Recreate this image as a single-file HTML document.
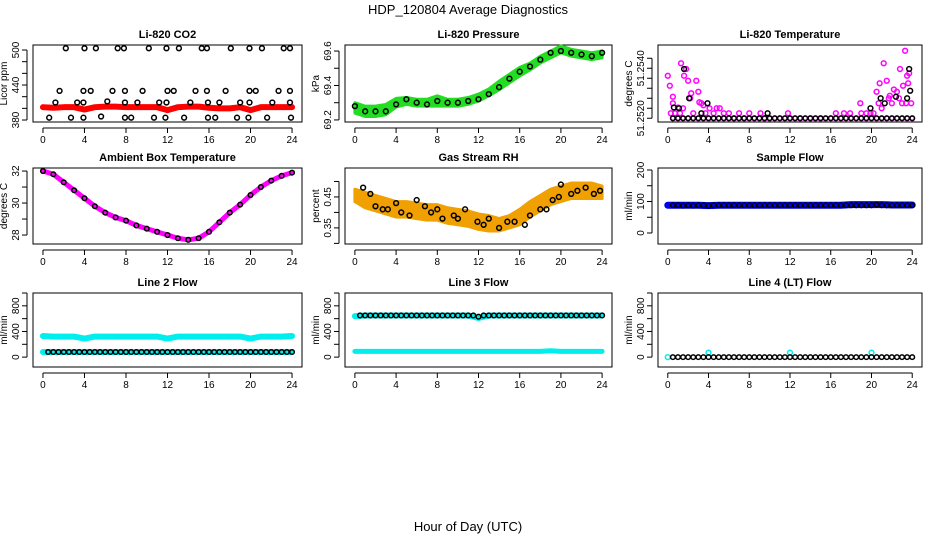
<!DOCTYPE html>
<html><head><meta charset="utf-8"><style>
body{margin:0;background:#fff}
svg{display:block;font-family:"Liberation Sans",sans-serif}
</style></head><body>
<svg id="c" width="936" height="540" xmlns="http://www.w3.org/2000/svg">
<text x="468" y="14" text-anchor="middle" font-size="13">HDP_120804  Average Diagnostics</text>
<text x="468" y="531" text-anchor="middle" font-size="13">Hour of Day (UTC)</text>
</svg>
<script>
const hrs=[0,1,2,3,4,5,6,7,8,9,10,11,12,13,14,15,16,17,18,19,20,21,22,23,24];
const halfHrs=[0.5,1,1.5,2,2.5,3,3.5,4,4.5,5,5.5,6,6.5,7,7.5,8,8.5,9,9.5,10,10.5,11,11.5,12,12.5,13,13.5,14,14.5,15,15.5,16,16.5,17,17.5,18,18.5,19,19.5,20,20.5,21,21.5,22,22.5,23,23.5,24];
const xTicks=[0,4,8,12,16,20,24];
// CO2
const co2Red=[402,401,402,402,398,402,403,403,402,402,402,402,397,402,403,403,401,400,400,402,397,402,402,402,402];
const co2BlackH=[2.2,4.0,5.1,7.2,7.8,10.2,11.9,13.1,15.3,15.8,18.1,19.9,21.1,23.2,23.8,1.6,3.9,4.6,6.7,7.9,9.6,12.0,12.6,14.7,15.8,17.6,19.9,20.5,22.7,23.8,1.2,3.9,3.3,6.2,7.9,9.1,11.2,11.9,14.2,15.9,17.0,19.0,19.9,22.1,23.8,0.6,2.7,3.9,5.6,7.9,8.5,10.7,11.8,13.6,15.9,16.6,18.7,19.8,21.6,23.9];
const co2BlackV=[503,503,503,503,503,503,503,503,503,503,503,503,503,503,503,430,430,430,430,430,430,430,430,430,430,430,430,430,430,430,410,410,410,412,410,410,410,410,410,410,410,410,410,410,410,384,384,384,386,384,384,384,384,384,384,384,384,384,384,384];
// Pressure
const presMean=[69.27,69.25,69.25,69.26,69.30,69.31,69.30,69.30,69.31,69.30,69.30,69.31,69.33,69.36,69.40,69.44,69.48,69.51,69.55,69.58,69.61,69.59,69.58,69.57,69.58];
const presSpread=[0.03,0.03,0.03,0.03,0.025,0.02,0.02,0.02,0.03,0.02,0.02,0.02,0.02,0.02,0.025,0.025,0.025,0.02,0.02,0.02,0.02,0.02,0.02,0.02,0.02];
const presBlack=[69.28,69.25,69.25,69.25,69.29,69.32,69.30,69.29,69.31,69.30,69.30,69.31,69.32,69.35,69.39,69.44,69.48,69.51,69.55,69.59,69.60,69.59,69.58,69.57,69.59];
// Li-820 temperature (offset above 51.2520, units 1e-4)
const tempMagH=[0,0.2,0.5,1,1.3,1.6,1.8,2,2.3,2.8,3,3.1,3.5,4.1,4.8,5.1,6,8,9.1,11.8,16.5,17.3,17.9,18.9,19.9,20.5,20.8,21.2,21.5,21.8,22.2,22.5,22.8,23.1,23.3,23.5,23.6,23.7,0.3,0.7,1.2,2.5,3.7,4.5,5.5,6.5,7,7.5,9.5,10,13,14,15,19,19.5,20.2,21,22,23,23.9,0.5,1.5,2.2,3.3,20.7,21.7,22.7,23.4];
const tempMagV=[17,13,8.6,4.3,22,17,19.7,15,10,15,10.6,6.4,5.2,4,4,4,2,2,2,2,2,2,2,6,2,10.6,14,22,15,9,11.5,10.6,19.7,13,27,17,14,18,2,2,2,2,2,2,2,0,2,0,0,0,0,0,0,2,2,2,4,6,6,6,6,4,8,6,6,8,8,6];
const tempBlackH=[0.6,1.1,1.6,2.1,3.3,3.9,9.8,19.9,20.9,21.3,22.4,23.7,23.8,23.5];
const tempBlackV=[4.3,4,19.7,8,2,6,2,4,8,6,8.6,19.7,11,8];
const tempBase=[0,0,0,0,0,0,0,0,0,0,0,0,0,0,0,0,0,0,0,0,0,0,0,0,0,0,0,0,0,0,0,0,0,0,0,0,0,0,0,0,0,0,0,0,0,0,0,0];
// Ambient
const ambMean=[32.0,31.8,31.3,30.8,30.3,29.8,29.4,29.1,28.9,28.6,28.4,28.2,28.0,27.8,27.7,27.8,28.2,28.8,29.4,29.9,30.5,31.0,31.4,31.7,31.9];
// RH
const rhMean=[0.455,0.44,0.43,0.42,0.41,0.41,0.405,0.40,0.40,0.39,0.385,0.38,0.37,0.365,0.36,0.37,0.385,0.41,0.43,0.45,0.46,0.47,0.47,0.47,0.465];
const rhSpread=[0.02,0.025,0.025,0.025,0.025,0.025,0.025,0.025,0.025,0.025,0.025,0.025,0.025,0.025,0.02,0.02,0.025,0.025,0.025,0.025,0.025,0.025,0.025,0.025,0.02];
const rhBlackH=[0.8,1.5,2,2.7,3.2,4,4.5,5.3,6,6.8,7.4,8,8.5,9.6,10,10.7,11.9,12.5,13,14,14.8,15.5,16.5,17,18,18.6,19.2,19.8,20,21,21.6,22.4,23.2,23.8];
const rhBlackV=[0.48,0.46,0.42,0.41,0.41,0.43,0.40,0.39,0.44,0.42,0.40,0.41,0.38,0.39,0.38,0.41,0.37,0.36,0.38,0.35,0.37,0.37,0.36,0.39,0.41,0.41,0.44,0.45,0.49,0.46,0.47,0.48,0.46,0.47];
// Flows
const sampleBlue=[88,88,88,88,87,88,88,88,88,88,88,88,88,88,88,88,88,88,90,90,90,90,89,89,89];
const sampleBlack=[88,88,87,88,87,88,88,87,88,88,88,88,88,88,88,88,88,88,88,88,88,88,88,88,88,88,88,88,88,88,88,88,88,88,88,88,88,88,88,88,90,88,88,88,88,88,88,88];
const line2Hi=[330,320,320,320,290,320,320,320,320,320,320,320,290,320,320,320,320,320,320,320,290,320,320,320,330];
const line2Lo=[80,80,80,80,80,80,80,80,80,80,80,80,80,80,80,80,80,80,80,80,80,80,80,80,80];
const line2Black=[80,80,80,80,80,80,80,80,80,80,80,80,80,80,80,80,80,80,80,80,80,80,80,80,80,80,80,80,80,80,80,80,80,80,80,80,80,80,80,80,80,80,80,80,80,80,80,80];
const line3Hi=[640,650,650,650,650,650,650,650,650,650,650,650,610,650,650,650,650,650,650,650,650,650,650,650,650];
const line3Lo=[90,90,90,90,90,90,90,90,90,90,90,90,90,90,90,90,90,90,90,100,90,90,90,90,90];
const line3Black=[650,650,650,650,650,650,650,650,650,650,650,650,650,650,650,650,650,650,650,650,650,650,650,630,650,650,650,650,650,650,650,650,650,650,650,650,650,650,650,650,650,650,650,650,650,650,650,650];
const line4CyanH=[0,4,12,20];
const line4CyanV=[0,70,70,70];
const line4Black=[0,0,0,0,0,0,0,0,0,0,0,0,0,0,0,0,0,0,0,0,0,0,0,0,0,0,0,0,0,0,0,0,0,0,0,0,0,0,0,0,0,0,0,0,0,0,0,0];

const NS="http://www.w3.org/2000/svg";
const svg=document.getElementById('c');
function mk(tag,attrs,parent){const e=document.createElementNS(NS,tag);for(const k in attrs)e.setAttribute(k,attrs[k]);(parent||svg).appendChild(e);return e;}
const cols=[[33,302],[345,612],[658,922]];
const rows=[[45,122],[168,244],[293,367]];
function panel(ci,ri,title,ylab,ymin,ymax,ticks,labels){
  const [x0,x1]=cols[ci],[y0,y1]=rows[ri];
  const g=mk('g',{});
  
  
  const sx=h=>x0+(h+0.96)/25.92*(x1-x0);
  const sy=v=>y1-(v-ymin)/(ymax-ymin)*(y1-y0);
  const t=mk('text',{x:(x0+x1)/2,y:y0-7,'text-anchor':'middle','font-size':11,'font-weight':'bold'},g);t.textContent=title;
  
  
  const b=mk('rect',{x:x0,y:y0,width:x1-x0,height:y1-y0,fill:'none',stroke:'#000','stroke-width':1},g);
  
  
  mk('line',{x1:sx(0),x2:sx(24),y1:y1+6,y2:y1+6,stroke:'#000'},g);
  xTicks.forEach(h=>{mk('line',{x1:sx(h),x2:sx(h),y1:y1+6,y2:y1+11,stroke:'#000'},g);
    const l=mk('text',{x:sx(h),y:y1+21,'text-anchor':'middle','font-size':10},g);l.textContent=h;
    
    });
  mk('line',{x1:x0-6,x2:x0-6,y1:sy(ticks[0]),y2:sy(ticks[ticks.length-1]),stroke:'#000'},g);
  ticks.forEach((v,i)=>{mk('line',{x1:x0-11,x2:x0-6,y1:sy(v),y2:sy(v),stroke:'#000'},g);
    if(labels[i]){const l=mk('text',{x:x0-14,y:sy(v),'text-anchor':'middle','font-size':10,transform:`rotate(-90 ${x0-14} ${sy(v)})`},g);l.textContent=labels[i];
    
    }});
  const yl=mk('text',{x:x0-26,y:(y0+y1)/2,'text-anchor':'middle','font-size':10,transform:`rotate(-90 ${x0-26} ${(y0+y1)/2})`},g);yl.textContent=ylab;
  
  
  const clip=mk('g',{},g);
  return {sx,sy,g:clip};
}
function line(p,xs,ys,color,w,name){const pts=xs.map((h,i)=>p.sx(h)+','+p.sy(ys[i])).join(' ');
  const e=mk('polyline',{points:pts,fill:'none',stroke:color,'stroke-width':w,'stroke-linejoin':'round','stroke-linecap':'round'},p.g);
  
  }
function band(p,xs,mean,spread,color,name){const up=xs.map((h,i)=>p.sx(h)+','+p.sy(mean[i]+spread[i]));
  const lo=xs.map((h,i)=>p.sx(h)+','+p.sy(mean[i]-spread[i])).reverse();
  const e=mk('polygon',{points:up.concat(lo).join(' '),fill:color,stroke:color,'stroke-width':3,'stroke-linejoin':'round'},p.g);
  
  }
function pts(p,xs,ys,color,r,name){xs.forEach((h,i)=>{const c=mk('circle',{cx:p.sx(h),cy:p.sy(ys[i]),r:r,fill:'none',stroke:color,'stroke-width':1.5},p.g);
  
  });}

// Panel 1
let p=panel(0,0,'Li-820 CO2','Licor ppm',376.6,508.6,[380,400,420,440,460,480,500],['380','','','440','','','500']);
line(p,hrs,co2Red,'#ff0000',6,'co2-red-series');
pts(p,co2BlackH,co2BlackV,'#000',2.4,'co2-point');
// Panel 2
p=panel(1,0,'Li-820 Pressure','kPa',69.188,69.635,[69.2,69.3,69.4,69.5,69.6],['69.2','','69.4','','69.6']);
band(p,hrs,presMean,presSpread,'#22dd22','pressure-band');
pts(p,hrs,presBlack,'#000',2.4,'pressure-point');
// Panel 3
p=panel(2,0,'Li-820 Temperature','degrees C',-1.5,29.3,[0,4,8,12,16,20,24],['51.2520','','','','','51.2540','']);
pts(p,tempMagH,tempMagV,'#ff00ff',2.4,'temp-magenta-point');
pts(p,halfHrs,tempBase,'#ff00ff',2.4,'temp-magenta-base');
pts(p,halfHrs,tempBase,'#000',2.2,'temp-black-base');
pts(p,tempBlackH,tempBlackV,'#000',2.4,'temp-black-point');
// Panel 4
p=panel(0,1,'Ambient Box Temperature','degrees C',27.44,32.19,[28,29,30,31,32],['28','','30','','32']);
line(p,hrs,ambMean,'#ff00ff',5,'ambient-magenta-series');
pts(p,hrs,ambMean,'#000',2.3,'ambient-point');
// Panel 5
p=panel(1,1,'Gas Stream RH','percent',0.298,0.5435,[0.30,0.35,0.40,0.45,0.50],['','0.35','','0.45','']);
band(p,hrs,rhMean,rhSpread,'#f0a000','rh-band');
pts(p,rhBlackH,rhBlackV,'#000',2.4,'rh-point');
// Panel 6
p=panel(2,1,'Sample Flow','ml/min',-34.9,206.3,[0,50,100,150,200],['0','','100','','200']);
line(p,hrs,sampleBlue,'#0000ee',7,'sample-blue-series');
pts(p,halfHrs,sampleBlack,'#000',2.3,'sample-point');
// Panel 7
p=panel(0,2,'Line 2 Flow','ml/min',-154,1000,[0,200,400,600,800,1000],['0','','400','','800','']);
line(p,hrs,line2Hi,'#00eeee',6,'line2-high-series');
line(p,hrs,line2Lo,'#00eeee',6,'line2-low-series');
pts(p,halfHrs,line2Black,'#000',2.3,'line2-point');
// Panel 8
p=panel(1,2,'Line 3 Flow','ml/min',-154,1000,[0,200,400,600,800,1000],['0','','400','','800','']);
line(p,hrs,line3Hi,'#00eeee',6,'line3-high-series');
line(p,hrs,line3Lo,'#00eeee',5,'line3-low-series');
pts(p,halfHrs,line3Black,'#000',2.3,'line3-point');
// Panel 9
p=panel(2,2,'Line 4 (LT) Flow','ml/min',-154,1000,[0,200,400,600,800,1000],['0','','400','','800','']);
pts(p,line4CyanH,line4CyanV,'#00eeee',2.4,'line4-cyan-point');
pts(p,halfHrs,line4Black,'#000',2.3,'line4-point');
</script>
</body></html>
